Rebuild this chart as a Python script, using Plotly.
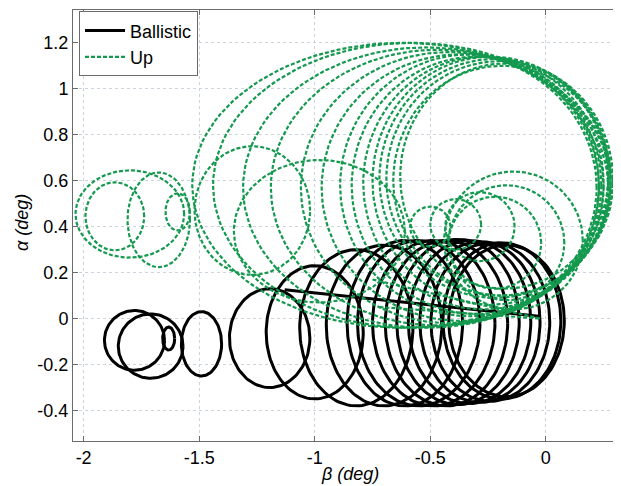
import numpy as np
import plotly.graph_objects as go

# ---- data: each loop of the trajectory as (centre, half-width, half-height) in degrees
bal_cx = [-0.17, -0.19, -0.24, -0.285, -0.33, -0.38, -0.43, -0.485, -0.55, -0.61, -0.70, -0.82, -1.00, -1.195, -1.49, -1.632, -1.71, -1.78]
bal_cy = [-0.01, -0.01, -0.015, -0.015, -0.015, -0.015, -0.02, -0.02, -0.02, -0.02, -0.03, -0.04, -0.06, -0.085, -0.11, -0.087, -0.12, -0.095]
bal_rx = [0.25, 0.255, 0.257, 0.26, 0.265, 0.265, 0.265, 0.265, 0.265, 0.25, 0.25, 0.245, 0.21, 0.174, 0.087, 0.026, 0.14, 0.13]
bal_ry = [0.33, 0.34, 0.345, 0.35, 0.355, 0.36, 0.36, 0.36, 0.36, 0.36, 0.35, 0.34, 0.29, 0.215, 0.14, 0.05, 0.14, 0.13]

up_cx = [-0.20, -0.19, -0.18, -0.22, -0.24, -0.27, -0.30, -0.33, -0.37, -0.42, -0.47, -0.52, -0.58, -0.62, -0.98, -1.27, -1.675, -1.593, -1.80, -1.865]
up_cy = [0.61, 0.60, 0.62, 0.61, 0.60, 0.59, 0.58, 0.58, 0.57, 0.57, 0.57, 0.57, 0.58, 0.58, 0.38, 0.47, 0.43, 0.464, 0.455, 0.445]
up_rx = [0.49, 0.47, 0.45, 0.50, 0.51, 0.52, 0.54, 0.56, 0.60, 0.64, 0.72, 0.79, 0.86, 0.91, 0.37, 0.25, 0.135, 0.053, 0.235, 0.127]
up_ry = [0.51, 0.50, 0.49, 0.52, 0.54, 0.55, 0.56, 0.57, 0.58, 0.59, 0.60, 0.61, 0.62, 0.62, 0.31, 0.28, 0.206, 0.081, 0.19, 0.148]

# early "Up" loops that grow out of the origin
up_small_cx = [-0.50, -0.39, -0.285, -0.22, -0.17, -0.14]
up_small_cy = [0.40, 0.41, 0.40, 0.33, 0.33, 0.34]
up_small_r = [0.087, 0.11, 0.15, 0.20, 0.25, 0.30]

# straight transient segments
bal_seg_x = [-1.13, -0.48, -0.03]
bal_seg_y = [0.125, 0.058, 0.01]
up_seg_x = [-0.75, -0.025, None, -0.72, -0.025]
up_seg_y = [0.17, 0.0, None, 0.05, 0.0]

x_ticks = [-2, -1.5, -1, -0.5, 0]
y_ticks = [-0.4, -0.2, 0, 0.2, 0.4, 0.6, 0.8, 1, 1.2]


def loops(cx, cy, rx, ry):
    t = np.linspace(0, 2 * np.pi, 121)
    xs, ys = [], []
    for a, b, c, d in zip(cx, cy, rx, ry):
        xs += list(a + c * np.cos(t)) + [None]
        ys += list(b + d * np.sin(t)) + [None]
    return xs, ys


bx, by = loops(bal_cx, bal_cy, bal_rx, bal_ry)
bx += bal_seg_x
by += bal_seg_y
ux, uy = loops(up_cx, up_cy, up_rx, up_ry)
sx, sy = loops(up_small_cx, up_small_cy, up_small_r, up_small_r)
ux += sx + [None] + up_seg_x
uy += sy + [None] + up_seg_y

GREEN = "#14994f"
fig = go.Figure()
fig.add_trace(go.Scatter(x=bx, y=by, mode="lines", name="Ballistic",
                         line=dict(color="black", width=3)))
fig.add_trace(go.Scatter(x=ux, y=uy, mode="lines", name="Up",
                         line=dict(color=GREEN, width=2.2, dash="4px,2px")))

font = "Liberation Sans, Arial, sans-serif"
axis_common = dict(showgrid=True, gridcolor="#cdd3da", griddash="dot", gridwidth=1,
                   showline=True, linecolor="#6b6b6b", linewidth=1, mirror="allticks",
                   ticks="inside", ticklen=5, tickcolor="#6b6b6b", zeroline=False,
                   automargin=False,
                   tickfont=dict(family=font, size=18, color="#000"))
fig.update_xaxes(range=[-2.046, 0.321], tickvals=x_ticks, ticktext=[str(v) for v in x_ticks],
                 **axis_common)
fig.update_yaxes(range=[-0.533, 1.343], tickvals=y_ticks, ticktext=[str(v) for v in y_ticks],
                 **axis_common)
fig.add_annotation(text="<i>β (deg)</i>", x=0.506, y=-0.0766, xref="paper", yref="paper",
                   xanchor="center", yanchor="middle", showarrow=False,
                   font=dict(family=font, size=18, color="#000"))
fig.add_annotation(text="<i>α (deg)</i>", x=-0.093, y=0.506, xref="paper", yref="paper",
                   xanchor="center", yanchor="middle", showarrow=False, textangle=-90,
                   font=dict(family=font, size=18, color="#000"))
# the page body adds an 8px offset, so margins are shifted to keep the plot box in place
fig.update_layout(width=621, height=486, margin=dict(l=65, r=9, t=2, b=53),
                  plot_bgcolor="white", paper_bgcolor="white",
                  legend=dict(x=0.011, y=0.997, xanchor="left", yanchor="top",
                              bgcolor="white", bordercolor="#6b6b6b", borderwidth=1,
                              font=dict(family=font, size=18, color="#000"),
                              tracegroupgap=0, itemwidth=40),
                  showlegend=True)
fig.write_html("out.html")
